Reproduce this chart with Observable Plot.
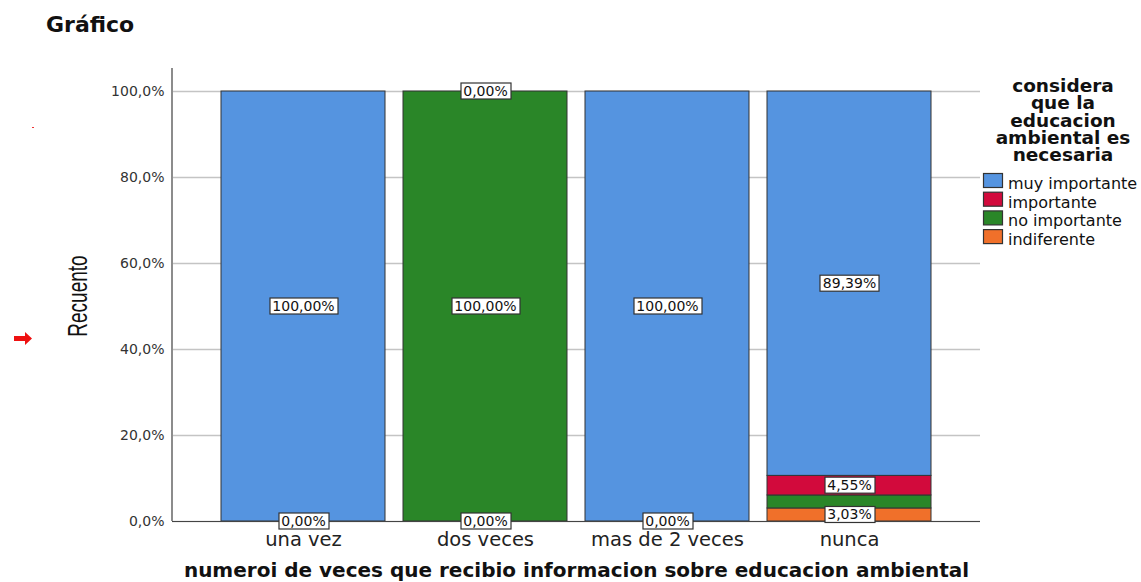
<!DOCTYPE html>
<html>
<head>
<meta charset="utf-8">
<script src="https://cdn.jsdelivr.net/npm/d3@7"></script>
<script src="https://cdn.jsdelivr.net/npm/@observablehq/plot@0.6"></script>
<style>
  html, body { margin: 0; padding: 0; background: #fff; overflow: hidden; }
  #chart { position: relative; width: 1141px; height: 582px; }
</style>
</head>
<body>
<div id="chart"></div>
<script>
// Categories on the x axis
const categories = ["una vez", "dos veces", "mas de 2 veces", "nunca"];

// Response series, listed bottom to top as they stack
const seriesNames = ["indiferente", "no importante", "importante", "muy importante"];
const seriesColors = ["#f0702a", "#2a8628", "#d20a3c", "#5594e0"];

// Percentages per category, one array per series
const indiferente   = [0, 0, 0, 3.03];
const noImportante  = [0, 100, 0, 3.03];
const importante    = [0, 0, 0, 4.55];
const muyImportante = [100, 0, 100, 89.39];

// Legend lists the series top to bottom
const legendOrder = ["muy importante", "importante", "no importante", "indiferente"];

// Segments whose value label is left off
const unlabeled = [["nunca", "no importante"]];

const yTicks = [0, 20, 40, 60, 80, 100];
const yMax = 105.35;

const chartTitle = "Gráfico";
const yLabel = "Recuento";
const xLabel = "numeroi de veces que recibio informacion sobre educacion ambiental";
const legendTitle = ["considera", "que la", "educacion", "ambiental es", "necesaria"];

const fmtPct = (v, d) => v.toFixed(d).replace(".", ",") + "%";

// Build stacked rows
const seriesValues = [indiferente, noImportante, importante, muyImportante];
const rows = [];
categories.forEach((category, i) => {
  let cum = 0;
  seriesNames.forEach((series, s) => {
    const value = seriesValues[s][i];
    rows.push({category, series, value, y1: cum, y2: cum + value, mid: cum + value / 2});
    cum += value;
  });
});

// One label per segment; empty segments sharing a position share one label
const seen = new Set();
const labelRows = rows.filter(r => {
  if (unlabeled.some(([c, s]) => c === r.category && s === r.series)) return false;
  const key = r.category + "|" + r.mid + "|" + r.value;
  if (seen.has(key)) return false;
  seen.add(key);
  return true;
});

const plot = Plot.plot({
  width: 1141,
  height: 582,
  marginTop: 68,
  marginBottom: 61,
  marginLeft: 172,
  marginRight: 161,
  style: {fontFamily: "DejaVu Sans", background: "#fff", color: "#222"},
  x: {domain: categories, paddingInner: 0.099, paddingOuter: 0.269},
  y: {domain: [0, yMax]},
  color: {domain: seriesNames, range: seriesColors},
  marks: [
    Plot.gridY(yTicks, {stroke: "#c4c4c4", strokeOpacity: 1, strokeWidth: 1.5}),
    Plot.barY(rows, {x: "category", y1: "y1", y2: "y2", fill: "series", stroke: "#333", strokeWidth: 1}),
    Plot.ruleY([0], {stroke: "#444", strokeWidth: 1.2}),
    Plot.axisY(yTicks, {
      tickSize: 0, tickPadding: 8, fontSize: 14, fill: "#333",
      tickFormat: d => fmtPct(d, 1), label: null
    }),
    Plot.axisX({tickSize: 0, tickPadding: 10.5, fontSize: 19.5, fill: "#222", label: null}),
    Plot.text(labelRows, {
      x: "category", y: "mid", text: d => fmtPct(d.value, 2),
      fontSize: 14, fill: "#111", ariaDescription: "value-labels"
    }),
    Plot.text([xLabel], {
      frameAnchor: "bottom", dy: 55, fontSize: 20, fontWeight: "bold", fill: "#111"
    })
  ]
});

document.getElementById("chart").append(plot);

const svg = d3.select(plot);
const ys = plot.scale("y");
const xLeft = 172;

// Boxed value labels
svg.selectAll('g[aria-description="value-labels"] text').each(function () {
  const b = this.getBBox();
  const r = document.createElementNS("http://www.w3.org/2000/svg", "rect");
  r.setAttribute("x", Math.round(b.x - 3) + 0.5);
  r.setAttribute("y", Math.round(b.y) + 0.5);
  r.setAttribute("width", Math.round(b.width + 6));
  r.setAttribute("height", Math.round(b.height));
  r.setAttribute("fill", "#fff");
  r.setAttribute("stroke", "#333");
  r.setAttribute("stroke-width", 1.2);
  const t = this.getAttribute("transform");
  if (t) r.setAttribute("transform", t);
  this.parentNode.insertBefore(r, this);
});

// Vertical axis line
svg.append("line")
  .attr("x1", xLeft).attr("x2", xLeft)
  .attr("y1", ys.apply(yMax)).attr("y2", ys.apply(0))
  .attr("stroke", "#8c8c8c").attr("stroke-width", 2);

// Y axis title, tall and narrow
svg.append("text")
  .attr("transform", "translate(87,296) scale(1.45,1) rotate(-90)")
  .attr("text-anchor", "middle")
  .attr("font-family", "Liberation Sans, Arial, sans-serif")
  .attr("font-size", 19)
  .attr("fill", "#111")
  .text(yLabel);

// Chart title
svg.append("text")
  .attr("x", 46).attr("y", 31.5)
  .attr("text-anchor", "start")
  .attr("font-family", "DejaVu Sans")
  .attr("font-weight", "bold")
  .attr("font-size", 22)
  .attr("fill", "#111")
  .text(chartTitle);

// Legend: wrapped title in one text block, then swatches
const legend = svg.append("g").attr("font-family", "DejaVu Sans").attr("fill", "#111");
const titleText = legend.append("text")
  .attr("text-anchor", "middle")
  .attr("font-weight", "bold")
  .attr("font-size", 18.5);
legendTitle.forEach((line, i) => {
  titleText.append("tspan")
    .attr("x", 1063).attr("y", 92 + i * 17.3)
    .text(line);
});
const colorOf = s => seriesColors[seriesNames.indexOf(s)];
legendOrder.forEach((s, i) => {
  legend.append("rect")
    .attr("x", 983.5).attr("y", 173.5 + i * 18.7)
    .attr("width", 19).attr("height", 14)
    .attr("fill", colorOf(s)).attr("stroke", "#333").attr("stroke-width", 1.2);
  legend.append("text")
    .attr("x", 1008).attr("y", 189 + i * 18.5)
    .attr("text-anchor", "start")
    .attr("font-size", 16)
    .text(s);
});

// Small red marker arrow at the left edge
svg.append("path")
  .attr("d", "M14,336 H25 V332 L32,338.5 L25,345 V341 H14 Z")
  .attr("fill", "#ee1111");
svg.append("rect")
  .attr("x", 32).attr("y", 127).attr("width", 2).attr("height", 1)
  .attr("fill", "#ee3333");
</script>
</body>
</html>
